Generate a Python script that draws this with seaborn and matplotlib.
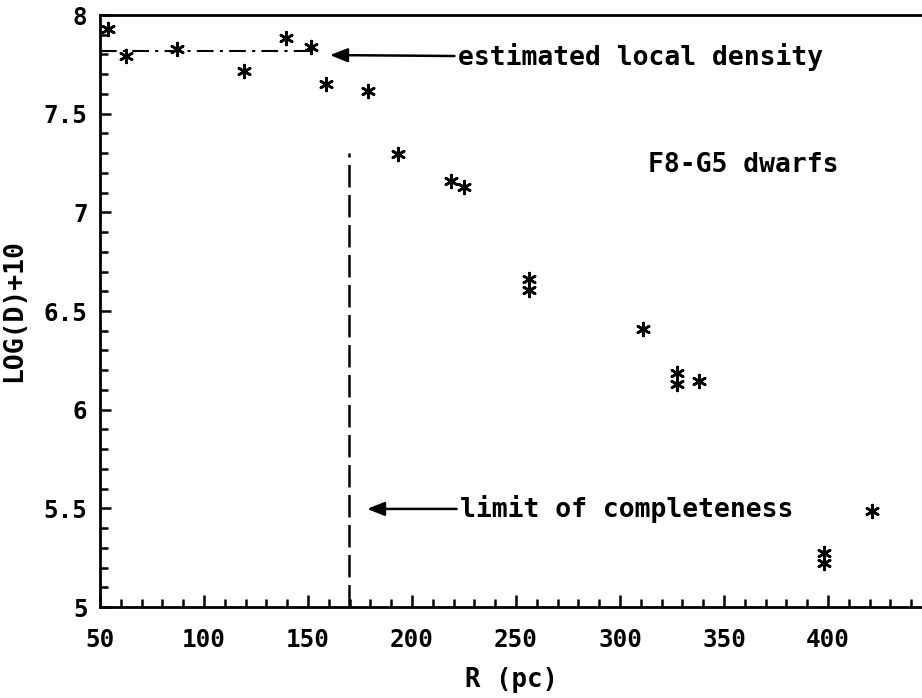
import matplotlib
matplotlib.use("Agg")
import matplotlib.pyplot as plt
import seaborn as sns
import pandas as pd
from matplotlib.ticker import MultipleLocator

# Data
r_pc = [54.0, 62.3, 86.9, 119.4, 139.3, 151.4, 158.5, 179.0, 193.4, 218.6,
        225.0, 256.4, 256.4, 311.2, 327.6, 327.6, 338.0, 398.2, 398.2, 421.0]
log_d = [7.927, 7.793, 7.826, 7.716, 7.882, 7.839, 7.648, 7.616, 7.298, 7.159,
         7.128, 6.663, 6.604, 6.410, 6.184, 6.130, 6.147, 5.276, 5.225, 5.485]

local_density = 7.817
local_density_xrange = [50, 154.8]
completeness_r = 169.7
completeness_top = 7.3

x_ticks = [50, 100, 150, 200, 250, 300, 350, 400]
y_ticks = [5, 5.5, 6, 6.5, 7, 7.5, 8]
y_tick_labels = ["5", "5.5", "6", "6.5", "7", "7.5", "8"]

df = pd.DataFrame({"R": r_pc, "logD": log_d})

sns.set_theme(style="white")
plt.rcParams["font.family"] = ["DejaVu Sans Mono", "DejaVu Sans"]
plt.rcParams["font.weight"] = "bold"
plt.rcParams["text.color"] = "black"
plt.rcParams["axes.labelcolor"] = "black"
plt.rcParams["xtick.color"] = "black"
plt.rcParams["ytick.color"] = "black"

fig = plt.figure(figsize=(9.22, 6.98), dpi=100)
ax = fig.add_axes([100 / 922, 1 - 607 / 698, 823 / 922, 592 / 698])

sns.scatterplot(data=df, x="R", y="logD", ax=ax, marker=(6, 2, 0), s=85,
                color="black", linewidth=1.9, legend=False, zorder=3)

ax.plot(local_density_xrange, [local_density, local_density], color="black",
        lw=1.5, linestyle=(0, (8, 3, 1.5, 3)))
ax.plot([completeness_r, completeness_r], [5, completeness_top], color="black",
        lw=1.8, linestyle=(0, (9, 3)))

ax.set_xlim(50, 50 + 823 / 2.08)
ax.set_ylim(5, 8)

ax.set_xticks(x_ticks)
ax.set_yticks(y_ticks)
ax.set_yticklabels(y_tick_labels)
ax.xaxis.set_minor_locator(MultipleLocator(10))
ax.yaxis.set_minor_locator(MultipleLocator(0.1))
ax.tick_params(axis="both", which="both", direction="in", color="black",
               labelcolor="black", width=1.8, bottom=True, left=True,
               top=False, right=False)
ax.tick_params(axis="x", which="major", length=9, pad=15, labelsize=17.5)
ax.tick_params(axis="x", which="minor", length=6)
ax.tick_params(axis="y", which="major", length=8, pad=9, labelsize=17.5)
ax.tick_params(axis="y", which="minor", length=6)
for lab in ax.get_xticklabels() + ax.get_yticklabels():
    lab.set_fontweight("bold")

for side in ["left", "bottom", "top"]:
    ax.spines[side].set_color("black")
    ax.spines[side].set_linewidth(2)
ax.spines["right"].set_visible(False)

ax.set_xlabel("R (pc)", fontsize=18.5, fontweight="bold", labelpad=11,
              color="black")
ax.set_ylabel("LOG(D)+10", fontsize=19, fontweight="bold", labelpad=12,
              color="black")

arrow = dict(arrowstyle="-|>,head_length=0.55,head_width=0.22", color="black",
             lw=1.8, shrinkA=0, shrinkB=0)
ax.annotate("estimated local density", xy=(160.6, 7.797), xytext=(222, 7.785),
            fontsize=19, fontweight="bold", va="center", ha="left",
            color="black", arrowprops=arrow)
ax.annotate("limit of completeness", xy=(178.4, 5.497), xytext=(223, 5.497),
            fontsize=19, fontweight="bold", va="center", ha="left",
            color="black", arrowprops=arrow)
ax.text(313.5, 7.24, "F8-G5 dwarfs", fontsize=19, fontweight="bold",
        va="center", ha="left", color="black")

fig.savefig("out.png", dpi=100)
